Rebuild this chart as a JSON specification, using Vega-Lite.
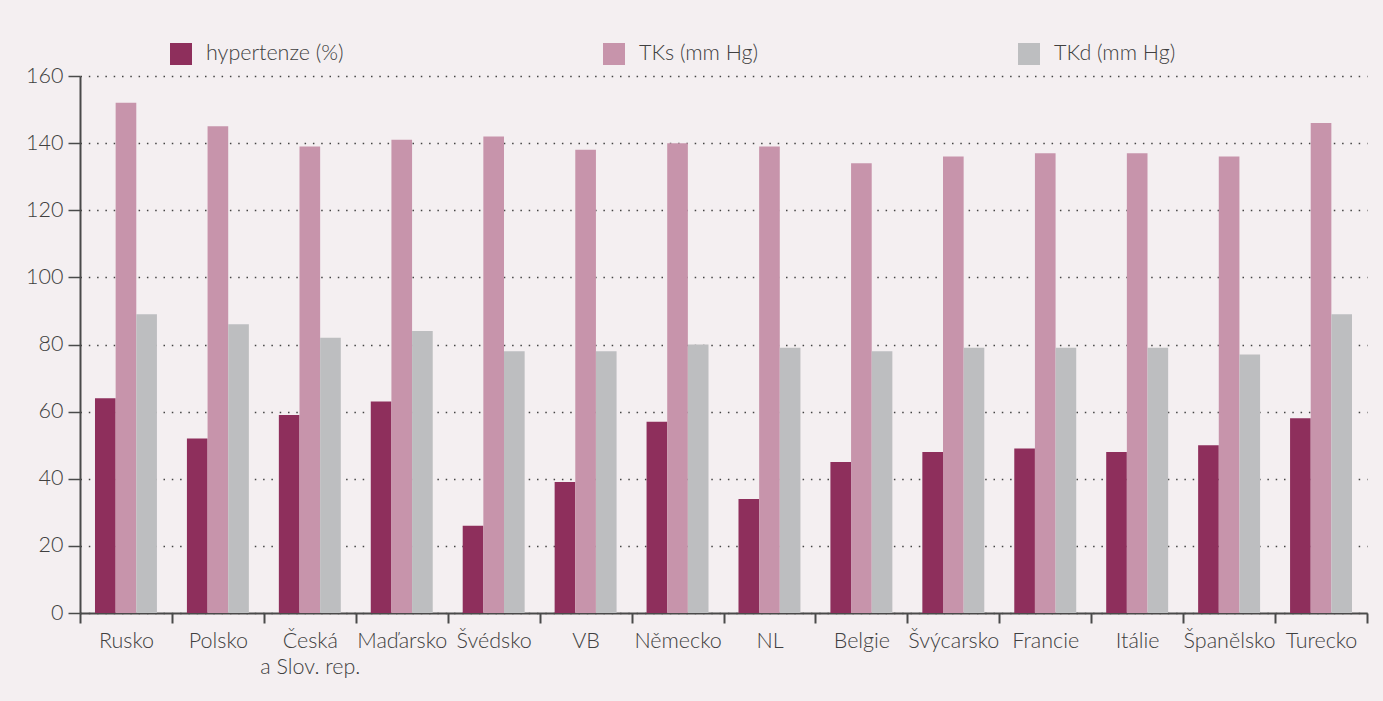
{
  "$schema": "https://vega.github.io/schema/vega-lite/v6.json",
  "width": 1287,
  "height": 537,
  "autosize": {"type": "none"},
  "padding": {"left": 80, "top": 76, "right": 16, "bottom": 88},
  "background": "#F4EFF1",
  "config": {
    "view": {"stroke": null},
    "font": "Lato",
    "axis": {"labelFont": "Lato", "labelColor": "#404040", "labelFontSize": 21.5, "labelFontWeight": 300, "title": null},
    "legend": {"labelFont": "Lato", "labelColor": "#404040", "labelFontSize": 21.5, "labelFontWeight": 300}
  },
  "data": {
    "values": [
      {"country": "Rusko", "series": "hypertenze (%)", "value": 64},
      {"country": "Rusko", "series": "TKs (mm Hg)", "value": 152},
      {"country": "Rusko", "series": "TKd (mm Hg)", "value": 89},
      {"country": "Polsko", "series": "hypertenze (%)", "value": 52},
      {"country": "Polsko", "series": "TKs (mm Hg)", "value": 145},
      {"country": "Polsko", "series": "TKd (mm Hg)", "value": 86},
      {"country": "Česká|a Slov.  rep.", "series": "hypertenze (%)", "value": 59},
      {"country": "Česká|a Slov.  rep.", "series": "TKs (mm Hg)", "value": 139},
      {"country": "Česká|a Slov.  rep.", "series": "TKd (mm Hg)", "value": 82},
      {"country": "Maďarsko", "series": "hypertenze (%)", "value": 63},
      {"country": "Maďarsko", "series": "TKs (mm Hg)", "value": 141},
      {"country": "Maďarsko", "series": "TKd (mm Hg)", "value": 84},
      {"country": "Švédsko", "series": "hypertenze (%)", "value": 26},
      {"country": "Švédsko", "series": "TKs (mm Hg)", "value": 142},
      {"country": "Švédsko", "series": "TKd (mm Hg)", "value": 78},
      {"country": "VB", "series": "hypertenze (%)", "value": 39},
      {"country": "VB", "series": "TKs (mm Hg)", "value": 138},
      {"country": "VB", "series": "TKd (mm Hg)", "value": 78},
      {"country": "Německo", "series": "hypertenze (%)", "value": 57},
      {"country": "Německo", "series": "TKs (mm Hg)", "value": 140},
      {"country": "Německo", "series": "TKd (mm Hg)", "value": 80},
      {"country": "NL", "series": "hypertenze (%)", "value": 34},
      {"country": "NL", "series": "TKs (mm Hg)", "value": 139},
      {"country": "NL", "series": "TKd (mm Hg)", "value": 79},
      {"country": "Belgie", "series": "hypertenze (%)", "value": 45},
      {"country": "Belgie", "series": "TKs (mm Hg)", "value": 134},
      {"country": "Belgie", "series": "TKd (mm Hg)", "value": 78},
      {"country": "Švýcarsko", "series": "hypertenze (%)", "value": 48},
      {"country": "Švýcarsko", "series": "TKs (mm Hg)", "value": 136},
      {"country": "Švýcarsko", "series": "TKd (mm Hg)", "value": 79},
      {"country": "Francie", "series": "hypertenze (%)", "value": 49},
      {"country": "Francie", "series": "TKs (mm Hg)", "value": 137},
      {"country": "Francie", "series": "TKd (mm Hg)", "value": 79},
      {"country": "Itálie", "series": "hypertenze (%)", "value": 48},
      {"country": "Itálie", "series": "TKs (mm Hg)", "value": 137},
      {"country": "Itálie", "series": "TKd (mm Hg)", "value": 79},
      {"country": "Španělsko", "series": "hypertenze (%)", "value": 50},
      {"country": "Španělsko", "series": "TKs (mm Hg)", "value": 136},
      {"country": "Španělsko", "series": "TKd (mm Hg)", "value": 77},
      {"country": "Turecko", "series": "hypertenze (%)", "value": 58},
      {"country": "Turecko", "series": "TKs (mm Hg)", "value": 146},
      {"country": "Turecko", "series": "TKd (mm Hg)", "value": 89}
    ]
  },
  "mark": {"type": "bar"},
  "encoding": {
    "x": {
      "field": "country",
      "type": "nominal",
      "sort": null,
      "scale": {"paddingInner": 0, "paddingOuter": 0},
      "axis": {
        "labelAngle": 0,
        "tickBand": "extent",
        "tickSize": 10,
        "tickWidth": 2,
        "tickColor": "#4a4a4a",
        "domainColor": "#4a4a4a",
        "domainWidth": 2,
        "labelPadding": 7,
        "labelLineHeight": 26,
        "labelExpr": "split(datum.label, '|')",
        "labelBaseline": "top"
      }
    },
    "xOffset": {
      "field": "series",
      "type": "nominal",
      "sort": ["hypertenze (%)", "TKs (mm Hg)", "TKd (mm Hg)"],
      "scale": {"paddingInner": 0, "paddingOuter": 0.726}
    },
    "y": {
      "field": "value",
      "type": "quantitative",
      "scale": {"domain": [0, 160], "nice": false},
      "axis": {
        "values": [0, 20, 40, 60, 80, 100, 120, 140, 160],
        "tickSize": 12,
        "tickWidth": 1.5,
        "tickColor": "#4a4a4a",
        "domainColor": "#4a4a4a",
        "domainWidth": 2,
        "labelPadding": 5,
        "grid": true,
        "gridColor": "#444444",
        "gridWidth": 1.5,
        "gridDash": [1.5, 6.8]
      }
    },
    "color": {
      "field": "series",
      "type": "nominal",
      "sort": ["hypertenze (%)", "TKs (mm Hg)", "TKd (mm Hg)"],
      "scale": {
        "domain": ["hypertenze (%)", "TKs (mm Hg)", "TKd (mm Hg)"],
        "range": ["#8E2F5C", "#C794AB", "#BDBEC0"]
      },
      "legend": {
        "title": null,
        "orient": "none",
        "direction": "horizontal",
        "legendX": 90,
        "legendY": -33,
        "symbolType": "square",
        "symbolSize": 484,
        "symbolStrokeWidth": 0,
        "symbolOpacity": 1,
        "labelOffset": 14,
        "columnPadding": 259,
        "padding": 0
      }
    }
  }
}
